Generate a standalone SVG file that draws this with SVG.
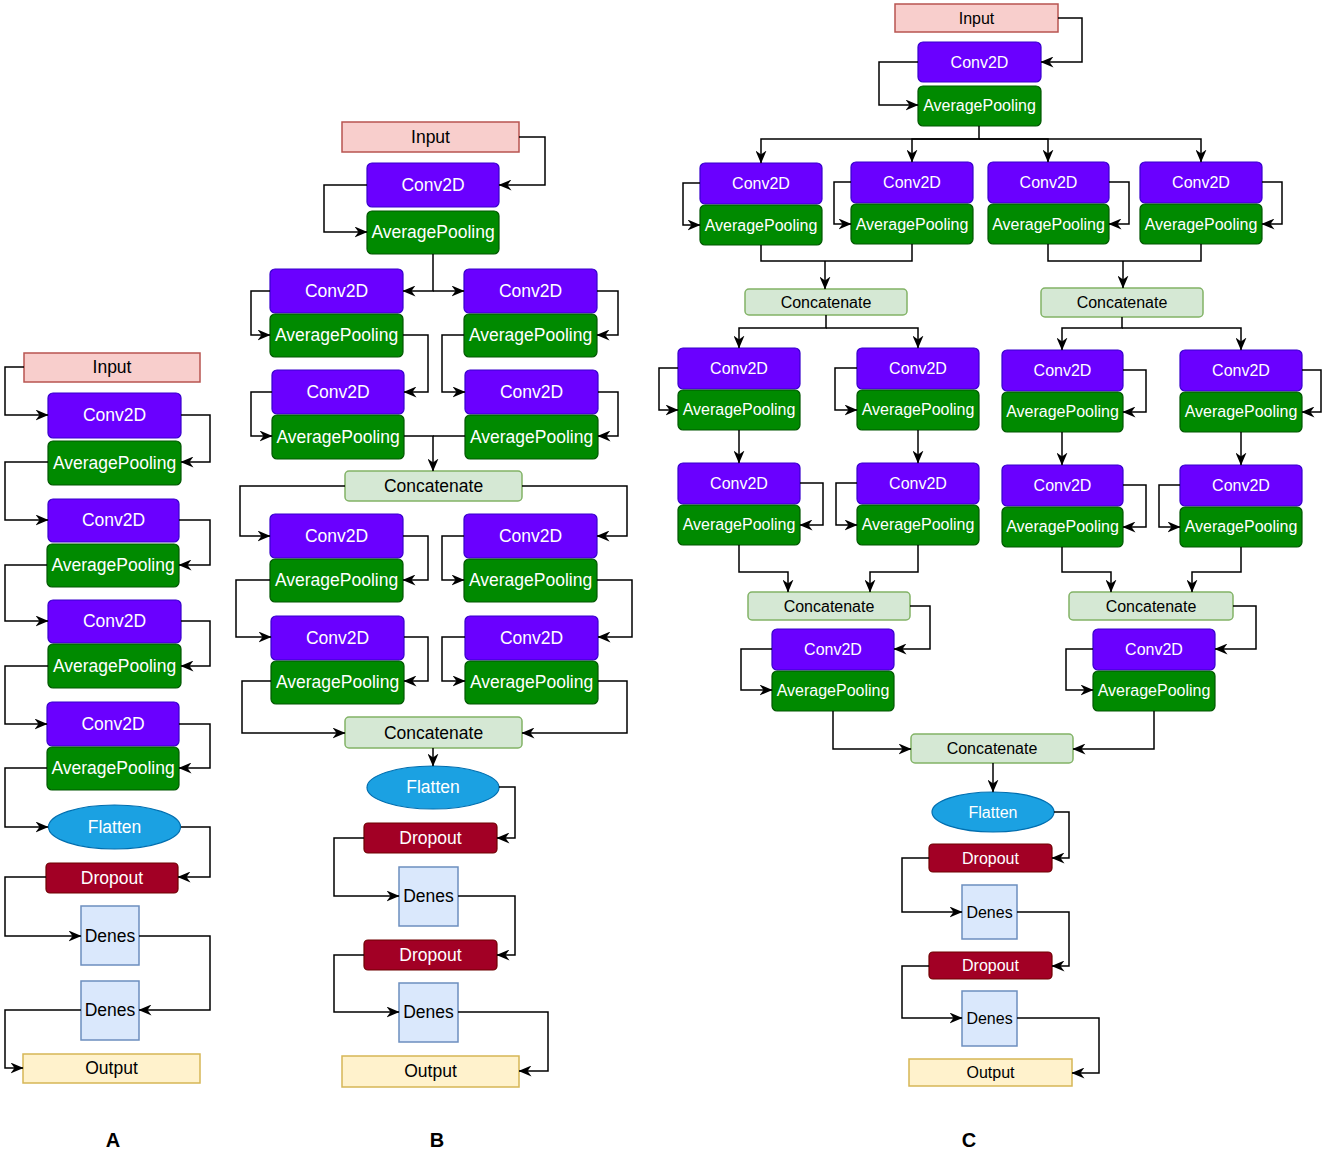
<svg xmlns="http://www.w3.org/2000/svg" width="1325" height="1156" viewBox="0 0 1325 1156">
<defs>
<style>
.conv{fill:#6a00ff;stroke:#3700cc;stroke-width:1.2}
.pool{fill:#008a00;stroke:#005700;stroke-width:1.2}
.inp{fill:#f8cecc;stroke:#b85450;stroke-width:1.5}
.cat{fill:#d5e8d4;stroke:#82b366;stroke-width:1.5}
.flat{fill:#1ba1e2;stroke:#006eaf;stroke-width:1.2}
.drop{fill:#a20025;stroke:#6f0000;stroke-width:1.2}
.den{fill:#dae8fc;stroke:#6c8ebf;stroke-width:1.5}
.out{fill:#fff2cc;stroke:#d6b656;stroke-width:1.5}
text{font-family:"Liberation Sans",Arial,sans-serif;text-anchor:middle}
.w{fill:#ffffff}
.k{fill:#000000}
.f17{font-size:17.5px}
.f16{font-size:16px}
.lbl{font-size:20px;font-weight:bold;fill:#000}
.e{fill:none;stroke:#000;stroke-width:1.5;marker-end:url(#ah)}
.p{fill:none;stroke:#000;stroke-width:1.5}
</style>
<marker id="ah" viewBox="0 0 13 11" refX="12.5" refY="5.5" markerWidth="13" markerHeight="11" markerUnits="userSpaceOnUse" orient="auto">
<path d="M0,0 L13,5.5 L0,11 L4,5.5 z" fill="#000"/>
</marker>
</defs>

<!-- ================= Column A ================= -->
<g id="a_input"><rect class="inp" x="24" y="353" width="176" height="29"/><text class="k f17" x="112" y="373">Input</text></g>
<g id="a_conv1"><rect class="conv" x="48" y="393" width="133" height="45" rx="5"/><text class="w f17" x="114.5" y="421">Conv2D</text></g>
<g id="a_pool1"><rect class="pool" x="48" y="441" width="133" height="44" rx="5"/><text class="w f17" x="114.5" y="469">AveragePooling</text></g>
<g id="a_conv2"><rect class="conv" x="48" y="499" width="131" height="43" rx="5"/><text class="w f17" x="113.5" y="526">Conv2D</text></g>
<g id="a_pool2"><rect class="pool" x="47" y="544" width="132" height="43" rx="5"/><text class="w f17" x="113" y="571">AveragePooling</text></g>
<g id="a_conv3"><rect class="conv" x="48" y="600" width="133" height="43" rx="5"/><text class="w f17" x="114.5" y="627">Conv2D</text></g>
<g id="a_pool3"><rect class="pool" x="48" y="644" width="133" height="44" rx="5"/><text class="w f17" x="114.5" y="672">AveragePooling</text></g>
<g id="a_conv4"><rect class="conv" x="47" y="702" width="132" height="44" rx="5"/><text class="w f17" x="113" y="730">Conv2D</text></g>
<g id="a_pool4"><rect class="pool" x="47" y="747" width="132" height="43" rx="5"/><text class="w f17" x="113" y="774">AveragePooling</text></g>
<g id="a_flatten"><ellipse class="flat" cx="114.5" cy="827" rx="66" ry="22"/><text class="w f17" x="114.5" y="833">Flatten</text></g>
<g id="a_dropout"><rect class="drop" x="46" y="863" width="132" height="30" rx="4"/><text class="w f17" x="112" y="884">Dropout</text></g>
<g id="a_dense1"><rect class="den" x="81" y="906" width="58" height="59"/><text class="k f17" x="110" y="942">Denes</text></g>
<g id="a_dense2"><rect class="den" x="81" y="981" width="58" height="59"/><text class="k f17" x="110" y="1016">Denes</text></g>
<g id="a_output"><rect class="out" x="23" y="1054" width="177" height="29"/><text class="k f17" x="111.5" y="1074">Output</text></g>

<!-- ================= Column B ================= -->
<g id="b_input"><rect class="inp" x="342" y="122" width="177" height="30"/><text class="k f17" x="430.5" y="143">Input</text></g>
<g id="b_conv0"><rect class="conv" x="367" y="163" width="132" height="44" rx="5"/><text class="w f17" x="433" y="191">Conv2D</text></g>
<g id="b_pool0"><rect class="pool" x="367" y="211" width="132" height="43" rx="5"/><text class="w f17" x="433" y="238">AveragePooling</text></g>
<g id="b_conv_l1"><rect class="conv" x="270" y="269" width="133" height="44" rx="5"/><text class="w f17" x="336.5" y="297">Conv2D</text></g>
<g id="b_pool_l1"><rect class="pool" x="270" y="314" width="133" height="43" rx="5"/><text class="w f17" x="336.5" y="341">AveragePooling</text></g>
<g id="b_conv_r1"><rect class="conv" x="464" y="269" width="133" height="44" rx="5"/><text class="w f17" x="530.5" y="297">Conv2D</text></g>
<g id="b_pool_r1"><rect class="pool" x="464" y="314" width="133" height="43" rx="5"/><text class="w f17" x="530.5" y="341">AveragePooling</text></g>
<g id="b_conv_l2"><rect class="conv" x="272" y="370" width="132" height="44" rx="5"/><text class="w f17" x="338" y="398">Conv2D</text></g>
<g id="b_pool_l2"><rect class="pool" x="272" y="415" width="132" height="44" rx="5"/><text class="w f17" x="338" y="443">AveragePooling</text></g>
<g id="b_conv_r2"><rect class="conv" x="465" y="370" width="133" height="44" rx="5"/><text class="w f17" x="531.5" y="398">Conv2D</text></g>
<g id="b_pool_r2"><rect class="pool" x="465" y="415" width="133" height="44" rx="5"/><text class="w f17" x="531.5" y="443">AveragePooling</text></g>
<g id="b_concat1"><rect class="cat" x="345" y="471" width="177" height="30" rx="4"/><text class="k f17" x="433.5" y="492">Concatenate</text></g>
<g id="b_conv_l3"><rect class="conv" x="270" y="514" width="133" height="44" rx="5"/><text class="w f17" x="336.5" y="542">Conv2D</text></g>
<g id="b_pool_l3"><rect class="pool" x="270" y="559" width="133" height="43" rx="5"/><text class="w f17" x="336.5" y="586">AveragePooling</text></g>
<g id="b_conv_r3"><rect class="conv" x="464" y="514" width="133" height="44" rx="5"/><text class="w f17" x="530.5" y="542">Conv2D</text></g>
<g id="b_pool_r3"><rect class="pool" x="464" y="559" width="133" height="43" rx="5"/><text class="w f17" x="530.5" y="586">AveragePooling</text></g>
<g id="b_conv_l4"><rect class="conv" x="271" y="616" width="133" height="44" rx="5"/><text class="w f17" x="337.5" y="644">Conv2D</text></g>
<g id="b_pool_l4"><rect class="pool" x="271" y="661" width="133" height="43" rx="5"/><text class="w f17" x="337.5" y="688">AveragePooling</text></g>
<g id="b_conv_r4"><rect class="conv" x="465" y="616" width="133" height="44" rx="5"/><text class="w f17" x="531.5" y="644">Conv2D</text></g>
<g id="b_pool_r4"><rect class="pool" x="465" y="661" width="133" height="43" rx="5"/><text class="w f17" x="531.5" y="688">AveragePooling</text></g>
<g id="b_concat2"><rect class="cat" x="345" y="717" width="177" height="31" rx="4"/><text class="k f17" x="433.5" y="739">Concatenate</text></g>
<g id="b_flatten"><ellipse class="flat" cx="433" cy="787.5" rx="66" ry="21.5"/><text class="w f17" x="433" y="793">Flatten</text></g>
<g id="b_dropout1"><rect class="drop" x="364" y="823" width="133" height="30" rx="4"/><text class="w f17" x="430.5" y="844">Dropout</text></g>
<g id="b_dense1"><rect class="den" x="399" y="867" width="59" height="59"/><text class="k f17" x="428.5" y="902">Denes</text></g>
<g id="b_dropout2"><rect class="drop" x="364" y="940" width="133" height="30" rx="4"/><text class="w f17" x="430.5" y="961">Dropout</text></g>
<g id="b_dense2"><rect class="den" x="399" y="983" width="59" height="59"/><text class="k f17" x="428.5" y="1018">Denes</text></g>
<g id="b_output"><rect class="out" x="342" y="1056" width="177" height="31"/><text class="k f17" x="430.5" y="1077">Output</text></g>

<!-- ================= Column C ================= -->
<g id="c_input"><rect class="inp" x="895" y="4" width="163" height="28"/><text class="k f16" x="976.5" y="24">Input</text></g>
<g id="c_conv0"><rect class="conv" x="918" y="42" width="123" height="40" rx="5"/><text class="w f16" x="979.5" y="68">Conv2D</text></g>
<g id="c_pool0"><rect class="pool" x="918" y="86" width="123" height="40" rx="5"/><text class="w f16" x="979.5" y="111">AveragePooling</text></g>
<g id="c_conv1"><rect class="conv" x="700" y="163" width="122" height="41" rx="5"/><text class="w f16" x="761" y="189">Conv2D</text></g>
<g id="c_pool1"><rect class="pool" x="700" y="205" width="122" height="40" rx="5"/><text class="w f16" x="761" y="231">AveragePooling</text></g>
<g id="c_conv2"><rect class="conv" x="851" y="162" width="122" height="41" rx="5"/><text class="w f16" x="912" y="188">Conv2D</text></g>
<g id="c_pool2"><rect class="pool" x="851" y="204" width="122" height="40" rx="5"/><text class="w f16" x="912" y="230">AveragePooling</text></g>
<g id="c_conv3"><rect class="conv" x="988" y="162" width="121" height="41" rx="5"/><text class="w f16" x="1048.5" y="188">Conv2D</text></g>
<g id="c_pool3"><rect class="pool" x="988" y="204" width="121" height="40" rx="5"/><text class="w f16" x="1048.5" y="230">AveragePooling</text></g>
<g id="c_conv4"><rect class="conv" x="1140" y="162" width="122" height="41" rx="5"/><text class="w f16" x="1201" y="188">Conv2D</text></g>
<g id="c_pool4"><rect class="pool" x="1140" y="204" width="122" height="40" rx="5"/><text class="w f16" x="1201" y="230">AveragePooling</text></g>
<g id="c_concat_l"><rect class="cat" x="745" y="289" width="162" height="26" rx="4"/><text class="k f16" x="826" y="308">Concatenate</text></g>
<g id="c_concat_r"><rect class="cat" x="1041" y="288" width="162" height="29" rx="4"/><text class="k f16" x="1122" y="308">Concatenate</text></g>
<g id="c_conv_l1"><rect class="conv" x="678" y="348" width="122" height="41" rx="5"/><text class="w f16" x="739" y="374">Conv2D</text></g>
<g id="c_pool_l1"><rect class="pool" x="678" y="390" width="122" height="40" rx="5"/><text class="w f16" x="739" y="415">AveragePooling</text></g>
<g id="c_conv_l2"><rect class="conv" x="857" y="348" width="122" height="41" rx="5"/><text class="w f16" x="918" y="374">Conv2D</text></g>
<g id="c_pool_l2"><rect class="pool" x="857" y="390" width="122" height="40" rx="5"/><text class="w f16" x="918" y="415">AveragePooling</text></g>
<g id="c_conv_r1"><rect class="conv" x="1002" y="350" width="121" height="41" rx="5"/><text class="w f16" x="1062.5" y="376">Conv2D</text></g>
<g id="c_pool_r1"><rect class="pool" x="1002" y="392" width="121" height="40" rx="5"/><text class="w f16" x="1062.5" y="417">AveragePooling</text></g>
<g id="c_conv_r2"><rect class="conv" x="1180" y="350" width="122" height="41" rx="5"/><text class="w f16" x="1241" y="376">Conv2D</text></g>
<g id="c_pool_r2"><rect class="pool" x="1180" y="392" width="122" height="40" rx="5"/><text class="w f16" x="1241" y="417">AveragePooling</text></g>
<g id="c_conv_l3"><rect class="conv" x="678" y="463" width="122" height="41" rx="5"/><text class="w f16" x="739" y="489">Conv2D</text></g>
<g id="c_pool_l3"><rect class="pool" x="678" y="505" width="122" height="40" rx="5"/><text class="w f16" x="739" y="530">AveragePooling</text></g>
<g id="c_conv_l4"><rect class="conv" x="857" y="463" width="122" height="41" rx="5"/><text class="w f16" x="918" y="489">Conv2D</text></g>
<g id="c_pool_l4"><rect class="pool" x="857" y="505" width="122" height="40" rx="5"/><text class="w f16" x="918" y="530">AveragePooling</text></g>
<g id="c_conv_r3"><rect class="conv" x="1002" y="465" width="121" height="41" rx="5"/><text class="w f16" x="1062.5" y="491">Conv2D</text></g>
<g id="c_pool_r3"><rect class="pool" x="1002" y="507" width="121" height="40" rx="5"/><text class="w f16" x="1062.5" y="532">AveragePooling</text></g>
<g id="c_conv_r4"><rect class="conv" x="1180" y="465" width="122" height="41" rx="5"/><text class="w f16" x="1241" y="491">Conv2D</text></g>
<g id="c_pool_r4"><rect class="pool" x="1180" y="507" width="122" height="40" rx="5"/><text class="w f16" x="1241" y="532">AveragePooling</text></g>
<g id="c_concat_l2"><rect class="cat" x="748" y="592" width="162" height="28" rx="4"/><text class="k f16" x="829" y="612">Concatenate</text></g>
<g id="c_concat_r2"><rect class="cat" x="1069" y="592" width="164" height="28" rx="4"/><text class="k f16" x="1151" y="612">Concatenate</text></g>
<g id="c_conv_l5"><rect class="conv" x="772" y="629" width="122" height="41" rx="5"/><text class="w f16" x="833" y="655">Conv2D</text></g>
<g id="c_pool_l5"><rect class="pool" x="772" y="671" width="122" height="40" rx="5"/><text class="w f16" x="833" y="696">AveragePooling</text></g>
<g id="c_conv_r5"><rect class="conv" x="1093" y="629" width="122" height="41" rx="5"/><text class="w f16" x="1154" y="655">Conv2D</text></g>
<g id="c_pool_r5"><rect class="pool" x="1093" y="671" width="122" height="40" rx="5"/><text class="w f16" x="1154" y="696">AveragePooling</text></g>
<g id="c_concat3"><rect class="cat" x="911" y="734" width="162" height="29" rx="4"/><text class="k f16" x="992" y="754">Concatenate</text></g>
<g id="c_flatten"><ellipse class="flat" cx="993" cy="812" rx="61" ry="20"/><text class="w f16" x="993" y="818">Flatten</text></g>
<g id="c_dropout1"><rect class="drop" x="929" y="844" width="123" height="28" rx="4"/><text class="w f16" x="990.5" y="864">Dropout</text></g>
<g id="c_dense1"><rect class="den" x="962" y="885" width="55" height="54"/><text class="k f16" x="989.5" y="918">Denes</text></g>
<g id="c_dropout2"><rect class="drop" x="929" y="952" width="123" height="27" rx="4"/><text class="w f16" x="990.5" y="971">Dropout</text></g>
<g id="c_dense2"><rect class="den" x="962" y="991" width="55" height="55"/><text class="k f16" x="989.5" y="1024">Denes</text></g>
<g id="c_output"><rect class="out" x="909" y="1059" width="163" height="27"/><text class="k f16" x="990.5" y="1078">Output</text></g>

<!-- ================= Connectors ================= -->
<g id="connectors">
<!-- A -->
<path class="e" d="M24,367 H5 V415 H48"/>
<path class="e" d="M181,415 H210 V462 H181"/>
<path class="e" d="M48,462 H5 V520 H48"/>
<path class="e" d="M179,520 H210 V565 H179"/>
<path class="e" d="M47,565 H5 V621 H48"/>
<path class="e" d="M181,621 H210 V666 H181"/>
<path class="e" d="M48,666 H5 V724 H47"/>
<path class="e" d="M179,724 H210 V768 H179"/>
<path class="e" d="M47,768 H5 V827 H48"/>
<path class="e" d="M181,827 H210 V877 H178"/>
<path class="e" d="M46,877 H5 V936 H81"/>
<path class="e" d="M139,936 H210 V1010 H139"/>
<path class="e" d="M81,1010 H5 V1068 H23"/>
<!-- B -->
<path class="e" d="M519,137 H545 V185 H499"/>
<path class="e" d="M367,185 H324 V232 H367"/>
<path class="e" d="M433,254 V291 H403"/>
<path class="e" d="M433,291 H464"/>
<path class="e" d="M270,291 H251 V335 H270"/>
<path class="e" d="M597,291 H618 V335 H597"/>
<path class="e" d="M403,335 H428 V392 H404"/>
<path class="e" d="M464,335 H442 V392 H465"/>
<path class="e" d="M272,392 H251 V436 H272"/>
<path class="e" d="M598,392 H618 V436 H598"/>
<path class="e" d="M404,436 H433 V471"/>
<path class="p" d="M465,436 H433"/>
<path class="e" d="M345,486 H240 V536 H270"/>
<path class="e" d="M522,486 H627 V536 H597"/>
<path class="e" d="M403,536 H428 V580 H403"/>
<path class="e" d="M464,536 H442 V580 H464"/>
<path class="e" d="M270,580 H236 V637 H271"/>
<path class="e" d="M597,580 H632 V637 H598"/>
<path class="e" d="M404,637 H428 V681 H404"/>
<path class="e" d="M465,637 H442 V681 H465"/>
<path class="e" d="M271,681 H242 V733 H345"/>
<path class="e" d="M598,681 H627 V733 H522"/>
<path class="e" d="M433,748 V766"/>
<path class="e" d="M499,787 H515 V838 H497"/>
<path class="e" d="M364,838 H334 V896 H399"/>
<path class="e" d="M458,896 H515 V955 H497"/>
<path class="e" d="M364,955 H334 V1012 H399"/>
<path class="e" d="M458,1012 H548 V1071 H519"/>
<!-- C -->
<path class="e" d="M1058,18 H1082 V62 H1041"/>
<path class="e" d="M918,62 H879 V105 H918"/>
<path class="e" d="M979,126 V139 H761 V163"/>
<path class="e" d="M979,139 H912 V162"/>
<path class="e" d="M979,139 H1048 V162"/>
<path class="e" d="M979,139 H1201 V162"/>
<path class="e" d="M700,183 H683 V225 H700"/>
<path class="e" d="M851,182 H834 V224 H851"/>
<path class="e" d="M1109,182 H1129 V224 H1109"/>
<path class="e" d="M1262,182 H1282 V224 H1262"/>
<path class="p" d="M761,245 V261 H912 V244"/>
<path class="e" d="M825,261 V289"/>
<path class="p" d="M1048,244 V261 H1201 V244"/>
<path class="e" d="M1123,261 V288"/>
<path class="e" d="M826,315 V328 H739 V348"/>
<path class="e" d="M826,328 H918 V348"/>
<path class="e" d="M1122,317 V328 H1062 V350"/>
<path class="e" d="M1122,328 H1241 V350"/>
<path class="e" d="M678,368 H659 V410 H678"/>
<path class="e" d="M857,368 H835 V410 H857"/>
<path class="e" d="M1123,370 H1146 V412 H1123"/>
<path class="e" d="M1302,370 H1321 V412 H1302"/>
<path class="e" d="M739,430 V463"/>
<path class="e" d="M918,430 V463"/>
<path class="e" d="M1062,432 V465"/>
<path class="e" d="M1241,432 V465"/>
<path class="e" d="M800,483 H823 V525 H800"/>
<path class="e" d="M857,483 H836 V525 H857"/>
<path class="e" d="M1123,485 H1146 V527 H1123"/>
<path class="e" d="M1180,485 H1159 V527 H1180"/>
<path class="e" d="M739,545 V572 H788 V592"/>
<path class="e" d="M918,545 V572 H870 V592"/>
<path class="e" d="M1062,547 V572 H1111 V592"/>
<path class="e" d="M1241,547 V572 H1192 V592"/>
<path class="e" d="M910,606 H930 V649 H894"/>
<path class="e" d="M772,649 H741 V690 H772"/>
<path class="e" d="M1233,606 H1256 V649 H1215"/>
<path class="e" d="M1093,649 H1066 V690 H1093"/>
<path class="e" d="M833,711 V749 H911"/>
<path class="e" d="M1154,711 V749 H1073"/>
<path class="e" d="M993,763 V792"/>
<path class="e" d="M1054,812 H1069 V858 H1052"/>
<path class="e" d="M929,858 H902 V912 H962"/>
<path class="e" d="M1017,912 H1069 V966 H1052"/>
<path class="e" d="M929,966 H902 V1018 H962"/>
<path class="e" d="M1017,1018 H1099 V1073 H1072"/>
</g>

<!-- panel labels -->
<text class="lbl" x="113" y="1147">A</text>
<text class="lbl" x="437" y="1147">B</text>
<text class="lbl" x="969" y="1147">C</text>
</svg>
